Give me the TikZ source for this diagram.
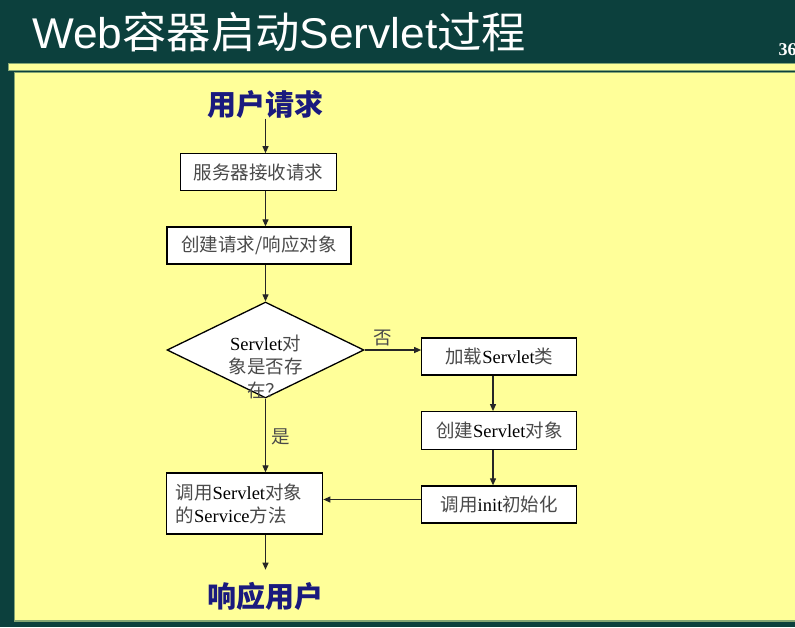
\documentclass[tikz,border=0pt]{standalone}
\usepackage{fontspec}
\setmainfont{Liberation Serif}
\newfontfamily\cjk{Noto Sans CJK SC}
\newfontfamily\titlesans{Liberation Sans}[FakeStretch=1.03]
\newfontfamily\titlecjk{Noto Sans CJK SC}[FakeStretch=1.03]
\usetikzlibrary{arrows.meta,shapes.geometric}
\definecolor{slidebg}{HTML}{0C403D}
\definecolor{panel}{HTML}{FFFF99}
\definecolor{panelrim}{HTML}{86A673}
\definecolor{zhgray}{HTML}{4A4A4A}
\definecolor{navy}{HTML}{1A1A7E}
% Chinese runs inside the flowchart and inside the title
\newcommand\zh[1]{{\cjk\color{zhgray}#1}}
\newcommand\tzh[1]{{\titlecjk #1}}

\begin{document}
\begin{tikzpicture}[x=1pt,y=-1pt,
  box/.style={draw=black, line width=1.3pt, fill=white, inner sep=0pt,
    font=\fontsize{18.5}{23}\selectfont},
  flow/.style={draw=black!85, line width=1.1pt, -{Triangle[length=7pt,width=6pt]}},
  endlabel/.style={font=\cjk\bfseries\fontsize{29}{32}\selectfont, text=navy, inner sep=0pt},
  note/.style={font=\fontsize{18.5}{23.5}\selectfont, inner sep=0pt}]

\useasboundingbox (0,0) rectangle (795,627);

% slide background, header rule and content panel
\fill[slidebg] (0,0) rectangle (795,627);
\draw[panelrim, fill=panel, line width=1pt] (8,63.5) rectangle (810,70.5);
\draw[panelrim, fill=panel, line width=1.2pt] (14.5,72.5) rectangle (810,621);

% title and page number
\node[anchor=base west, text=white, inner sep=0pt,
  font=\titlesans\fontsize{43}{46}\selectfont] (title) at (32,48)
  {Web\tzh{容器启动}Servlet\tzh{过程}};
\node[anchor=base west, text=white, inner sep=0pt,
  font=\bfseries\fontsize{18}{20}\selectfont] (pageno) at (778.5,55) {36};

% flowchart nodes
\node[endlabel] (req) at (265.5,104.5) {用户请求};
\node[box, minimum width=156, minimum height=37] (recv) at (258.5,172.3) {\zh{服务器接收请求}};
\node[box, minimum width=184, minimum height=37] (mk) at (259,245.5) {\zh{创建请求/响应对象}};
\node[draw=black, line width=1.3pt, fill=white, diamond, minimum width=197,
  minimum height=96, inner sep=0pt] (exists) at (265.5,350) {};
\node[note, align=center] (existsq) at (265.5,366.5)
  {Servlet\zh{对}\\\zh{象是否存}\\\zh{在？}};
\node[box, minimum width=155, minimum height=37] (load) at (499.3,356.5) {\zh{加载}Servlet\zh{类}};
\node[box, minimum width=155, minimum height=37.5] (inst) at (499.3,430.5) {\zh{创建}Servlet\zh{对象}};
\node[box, minimum width=155, minimum height=37] (init) at (499.3,504.5) {\zh{调用}init\zh{初始化}};
\node[box, minimum width=156, minimum height=61, text width=138, align=left] (svc) at (244.7,503.5)
  {\zh{调用}Servlet\zh{对象}\\\zh{的}Service\zh{方法}};
\node[endlabel] (resp) at (265.5,596) {响应用户};

% branch labels
\node[note] (nolbl) at (383,338) {\zh{否}};
\node[note] (yeslbl) at (281,437) {\zh{是}};

% connectors
\coordinate (rcol) at (493,0);
\coordinate (respin) at ([yshift=12pt]resp.north);
\draw[flow] (req.south) -- (req.south |- recv.north);
\draw[flow] (recv.south -| exists) -- (mk.north -| exists);
\draw[flow] (mk.south -| exists) -- (exists.north);
\draw[flow] (exists.east) -- (exists.east -| load.west);
\draw[flow] (load.south -| rcol) -- (inst.north -| rcol);
\draw[flow] (inst.south -| rcol) -- (init.north -| rcol);
\draw[flow] (exists.south) -- (exists.south |- svc.north);
\draw[flow] ([yshift=5pt]init.west) -- ([yshift=5pt]init.west -| svc.east);
\draw[flow] (svc.south -| exists) -- (respin);
\end{tikzpicture}
\end{document}
